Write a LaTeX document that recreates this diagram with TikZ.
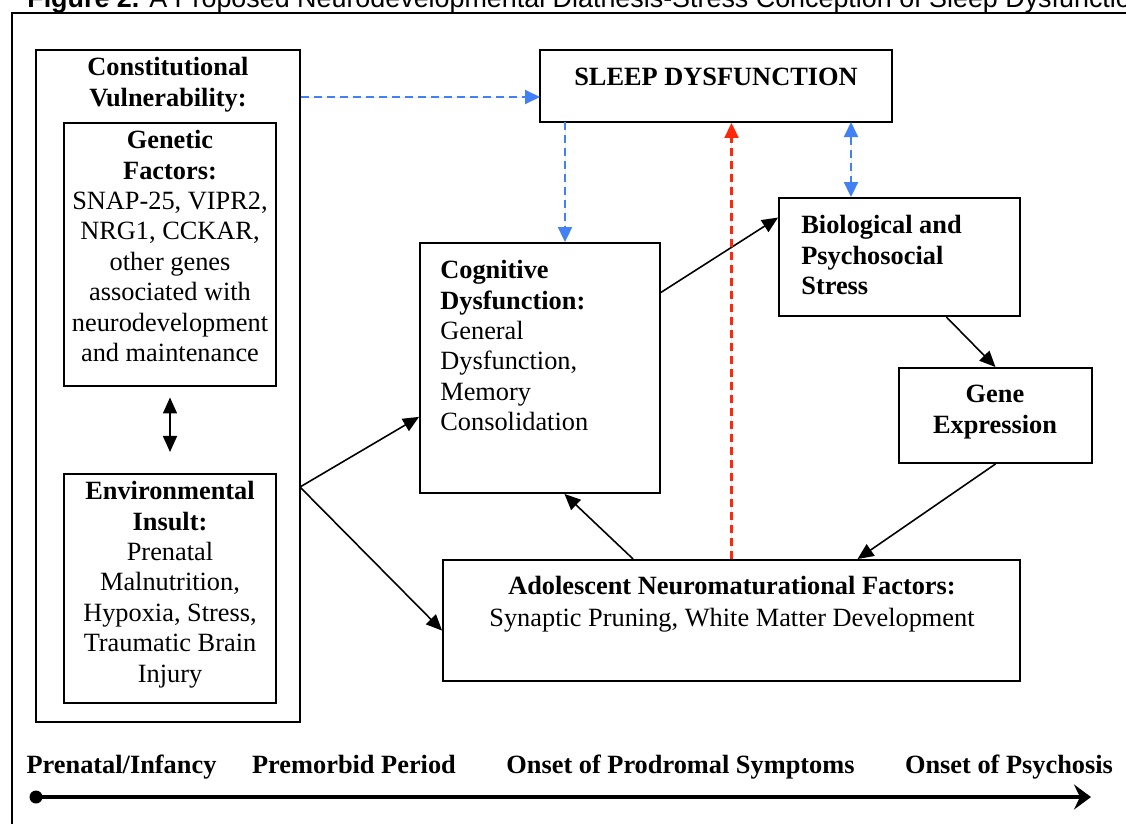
\documentclass[tikz,border=0pt]{standalone}
\usepackage{fontspec}
\setmainfont{Liberation Serif}
\newfontfamily\capfont{Liberation Sans}
\usetikzlibrary{arrows.meta}
\definecolor{sleepblue}{RGB}{66,128,245}
\definecolor{sleepred}{RGB}{255,40,10}

\begin{document}
\begin{tikzpicture}[x=0.02cm, y=-0.02cm,
  every node/.style={font=\fontsize{15}{17.3}\selectfont},
  box/.style={draw, line width=1.1pt, inner sep=0pt},
  txt/.style={inner sep=0pt, align=center, anchor=north},
  link/.style={-{Triangle[length=0.32cm,width=0.28cm]}, line width=0.9pt},
  bluelink/.style={-{Triangle[length=0.3cm,width=0.28cm]}, draw=sleepblue, fill=sleepblue,
    line width=1.1pt, dash pattern=on 0.16cm off 0.1cm},
  redlink/.style={-{Triangle[length=0.3cm,width=0.28cm]}, draw=sleepred, fill=sleepred,
    line width=1.2pt, dash pattern=on 0.16cm off 0.1cm},
  period/.style={anchor=base, inner sep=0pt, font=\fontsize{15}{17.3}\selectfont\bfseries}]
  \useasboundingbox (0,0) rectangle (1126,823);

  % caption and frame
  \node[anchor=base west, inner sep=0pt, font=\capfont\fontsize{15.3}{17}\selectfont] (caption) at (27,7)
  {\textbf{Figure 2.} A Proposed Neurodevelopmental Diathesis-Stress Conception of Sleep Dysfunction};
  \draw[line width=1.1pt] (12,13) rectangle (1140,840);

  % constitutional vulnerability
  \node[box, minimum width=5.28cm, minimum height=13.44cm] (constbox) at (168,386) {};
  \node[txt] (consttitle) at (168,57) {\textbf{Constitutional}\\\textbf{Vulnerability:}};
  \node[box, minimum width=4.24cm, minimum height=5.26cm] (genbox) at (170,254.5) {};
  \node[txt] (gentext) at (170,130)
  {\textbf{Genetic}\\\textbf{Factors:}\\SNAP-25, VIPR2,\\NRG1, CCKAR,\\other genes\\associated with\\neurodevelopment\\and maintenance};
  \node[box, minimum width=4.24cm, minimum height=4.58cm] (envbox) at (170,588.5) {};
  \node[txt] (envtext) at (170,481)
  {\textbf{Environmental}\\\textbf{Insult:}\\Prenatal\\Malnutrition,\\Hypoxia, Stress,\\Traumatic Brain\\Injury};
  \draw[link, {Triangle[length=0.32cm,width=0.28cm]}-{Triangle[length=0.32cm,width=0.28cm]},
    shorten <=6, shorten >=12] (genbox.south) -- (envbox.north);
  \coordinate (split) at (300,487);

  % sleep dysfunction
  \node[box, minimum width=7.04cm, minimum height=1.44cm] (sleepbox) at (716,86) {};
  \node[txt] (sleeptext) at (716,68) {\textbf{SLEEP DYSFUNCTION}};
  \coordinate (sleepin) at (540,97);
  \coordinate (sleepdown) at (565,122);
  \coordinate (sleepbio) at (851,122);

  % cognitive dysfunction
  \node[box, minimum width=4.8cm, minimum height=5cm] (cogbox) at (540,368) {};
  \node[txt, anchor=north west, align=left] (cogtext) at (440,260)
  {\textbf{Cognitive}\\\textbf{Dysfunction:}\\General\\Dysfunction,\\Memory\\Consolidation};

  % stress and gene expression
  \node[box, minimum width=4.82cm, minimum height=2.36cm] (biobox) at (899.5,257) {};
  \node[txt, anchor=north west, align=left] (biotext) at (801,215)
  {\textbf{Biological and}\\\textbf{Psychosocial}\\\textbf{Stress}};
  \node[box, minimum width=3.86cm, minimum height=1.9cm] (genebox) at (995.5,415.5) {};
  \node[txt] (genetext) at (995,385) {\textbf{Gene}\\\textbf{Expression}};

  % adolescent factors
  \node[box, minimum width=11.54cm, minimum height=2.42cm] (adolbox) at (731.5,620.5) {};
  \node[txt, font=\fontsize{15}{18.2}\selectfont] (adoltext) at (732,576)
  {\textbf{Adolescent Neuromaturational Factors:}\\Synaptic Pruning, White Matter Development};

  % solid arrows
  \draw[link] (split) -- (cogbox.202);
  \draw[link] (split) -- (adolbox.182);
  \draw[link] (cogbox.32.3) -- (biobox.162.9);
  \draw[link] (biobox.308.8) -- (genebox.north);
  \draw[link] (genebox.south) -- (adolbox.26.5);
  \draw[link] (adolbox.148.7) -- (cogbox.281.3);

  % dashed arrows
  \draw[bluelink] (constbox.east |- sleepin) -- (sleepin);
  \draw[bluelink] (sleepdown) -- (sleepdown |- cogbox.north);
  \draw[bluelink, {Triangle[length=0.3cm,width=0.28cm]}-{Triangle[length=0.3cm,width=0.28cm]}]
    (sleepbio) -- (sleepbio |- biobox.north);
  \draw[redlink] (adolbox.north) -- (adolbox.north |- sleepbox.south);

  % time line
  \node[period] (prenatal) at (121.5,773) {Prenatal/Infancy};
  \node[period] (premorbid) at (354,773) {Premorbid Period};
  \node[period] (prodromal) at (680.5,773) {Onset of Prodromal Symptoms};
  \node[period] (psychosis) at (1009,773) {Onset of Psychosis};
  \node[circle, fill, inner sep=0pt, minimum size=0.26cm] (tstart) at (36,797) {};
  \coordinate (tend) at (1091,797);
  \draw[line width=2.8pt, -{Stealth[length=0.34cm,width=0.5cm,inset=0.12cm]}] (tstart.center) -- (tend);
\end{tikzpicture}
\end{document}
